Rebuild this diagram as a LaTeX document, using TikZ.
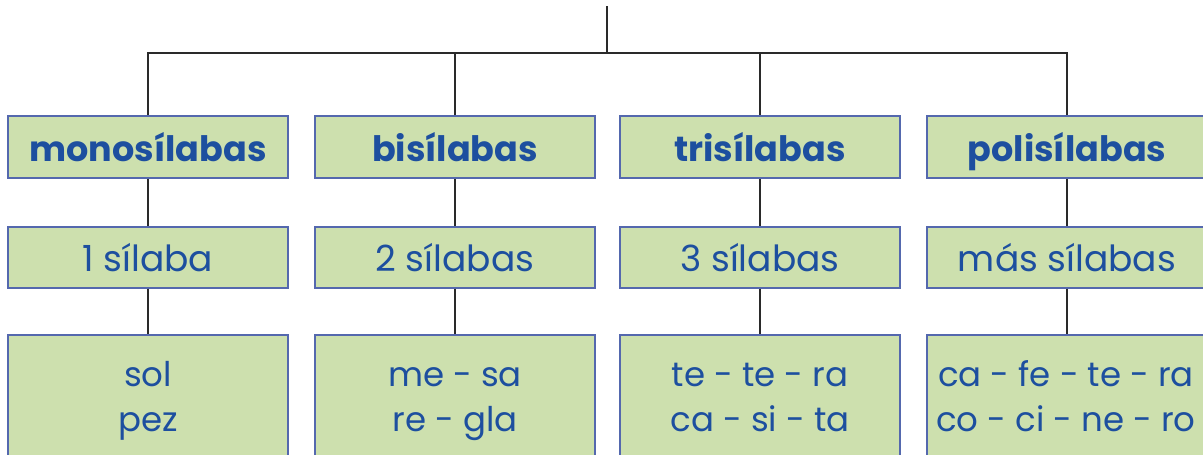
\documentclass[tikz,border=0pt]{standalone}
\usepackage{fontspec}
\setmainfont{Poppins}
\definecolor{boxfill}{HTML}{CDE0AE}
\definecolor{boxdraw}{HTML}{5468AE}
\definecolor{txt}{HTML}{1D4F9F}
\definecolor{ln}{HTML}{2A2A2A}
\begin{document}
\begin{tikzpicture}[x=1pt,y=-1pt,
  box/.style={draw=boxdraw,line width=2pt,fill=boxfill,minimum width=280pt,inner sep=0pt,text=txt,text height=28pt,text depth=0pt},
  head/.style={box,minimum height=62pt,font=\fontsize{35}{38}\selectfont\bfseries},
  mid/.style={box,minimum height=61pt,font=\fontsize{36}{40}\selectfont},
  low/.style={box,minimum height=140pt,anchor=north},
  word/.style={text=txt,font=\fontsize{34}{40}\selectfont,anchor=base,inner sep=0pt},
  conn/.style={draw=ln,line width=2pt}]
\useasboundingbox (0,0) rectangle (1203,455);
\begin{scope}
\clip (0,0) rectangle (1203,455);
\node[head] (h1) at (148,147) {monosílabas};
\node[head] (h2) at (455,147) {bisílabas};
\node[head] (h3) at (760,147) {trisílabas};
\node[head] (h4) at (1067,147) {polisílabas};
\node[mid] (m1) at (148,257) {1 sílaba};
\node[mid] (m2) at (455,257) {2 sílabas};
\node[mid] (m3) at (760,257) {3 sílabas};
\node[mid] (m4) at (1067,257) {más sílabas};
\node[low] (l1) at (148,334) {};
\node[low] (l2) at (455,334) {};
\node[low] (l3) at (760,334) {};
\node[low] (l4) at (1067,334) {};
\node[word] (t1a) at (148,386) {sol};
\node[word] (t1b) at (148,431) {pez};
\node[word] (t2a) at (455,386) {me - sa};
\node[word] (t2b) at (455,431) {re - gla};
\node[word] (t3a) at (760,386) {te - te - ra};
\node[word] (t3b) at (760,431) {ca - si - ta};
\node[word] (t4a) at (1066,386) {ca - fe - te - ra};
\node[word] (t4b) at (1066,431) {co - ci - ne - ro};
\end{scope}
\coordinate (top) at (607,6);
\coordinate (bar) at (607,53);
\draw[conn] (top) -- (bar);
\draw[conn] (h1.north) |- (bar) -| (h4.north);
\draw[conn] (h2.north) -- (h2.north |- bar);
\draw[conn] (h3.north) -- (h3.north |- bar);
\foreach \i in {1,2,3,4}{
  \draw[conn] (h\i.south) -- (m\i.north);
  \draw[conn] (m\i.south) -- (l\i.north);
}
\end{tikzpicture}
\end{document}
